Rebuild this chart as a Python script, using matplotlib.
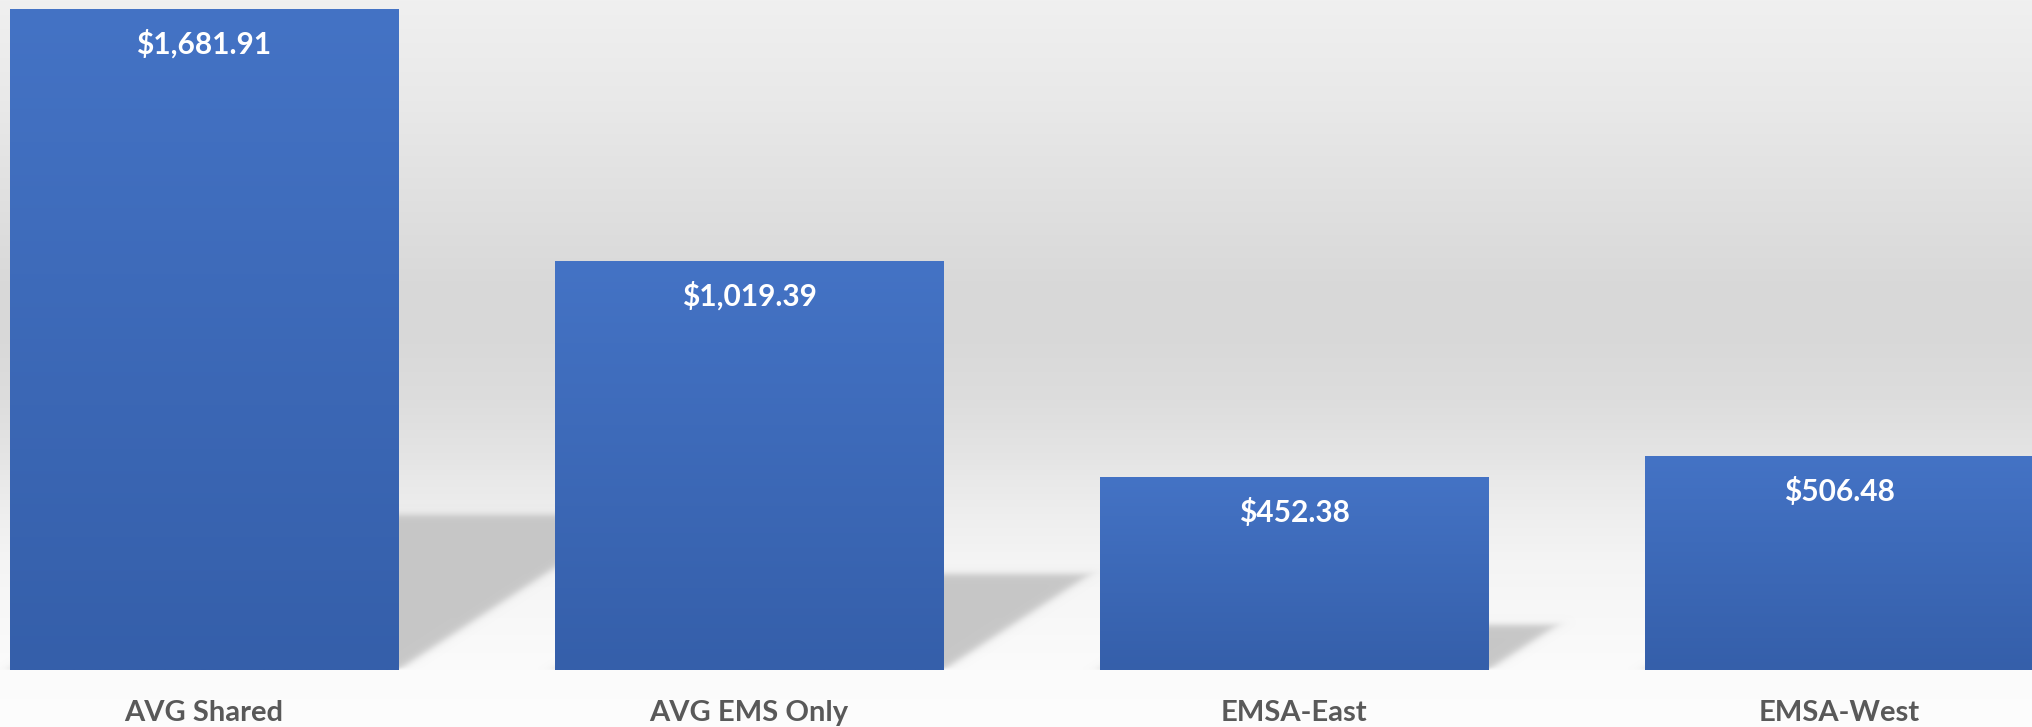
import numpy as np
import matplotlib
matplotlib.use("Agg")
import matplotlib.pyplot as plt

# ---- data ----
categories = ["AVG Shared", "AVG EMS Only", "EMSA-East", "EMSA-West"]
values = [1681.91, 1019.39, 452.38, 506.48]
value_labels = ["$1,681.91", "$1,019.39", "$452.38", "$506.48"]

plt.rcParams['font.family'] = ['Lato', 'DejaVu Sans']

W_PX, H_PX, DPI = 2033, 727, 100
fig = plt.figure(figsize=(W_PX / DPI, H_PX / DPI), dpi=DPI)

# ---- background gradient (chart area) ----
bg = fig.add_axes([0, 0, 1, 1], zorder=0)
bg.set_axis_off()
ys = np.array([0, 100, 200, 280, 330, 400, 430, 460, 480, 520, 560, 600, 670, 727])
gs = np.array([240, 233, 224, 217, 216, 221, 225, 229, 233, 239, 244, 247, 251, 253])
yy = np.arange(H_PX)
g = np.interp(yy, ys, gs) / 255.0
bg_img = np.repeat(g[:, None], 4, axis=1)
bg_rgb = np.stack([bg_img, bg_img, bg_img], axis=-1)
bg.imshow(bg_rgb, aspect='auto', extent=(0, 1, 0, 1), origin='upper')
bg.set_xlim(0, 1)
bg.set_ylim(0, 1)

# ---- main axes ----
ax_bottom = (H_PX - 670) / H_PX
ax = fig.add_axes([0, ax_bottom, 1, 1 - ax_bottom], zorder=1)
ax.patch.set_alpha(0)
for s in ax.spines.values():
    s.set_visible(False)

x = np.arange(len(categories))
bar_w = 0.712
xmin, xmax = -0.3743, 3.3560
y0, ymax = -53.0, 1706.0
ax.set_xlim(xmin, xmax)
ax.set_ylim(y0, ymax)
ax.set_yticks([])
ax.set_xticks([])

bars = ax.bar(x, np.array(values) - y0, bottom=y0, width=bar_w,
              color='none', edgecolor='none', zorder=3)

# ---- shadows (derived from bar geometry) ----
ax_w_px = W_PX
ax_h_px = 670
px = np.arange(ax_w_px) + 0.5
py = np.arange(ax_h_px) + 0.5
PX, PY = np.meshgrid(px, py)

def to_px_x(v):
    return (v - xmin) / (xmax - xmin) * ax_w_px

def to_px_h(v):
    return (v - y0) / (ymax - y0) * ax_h_px

def soft(d, sigma):
    return 0.5 * (1 + np.tanh(d / (sigma * 0.85)))

alpha = np.zeros_like(PX)
for b in bars:
    xl = to_px_x(b.get_x())
    xr = to_px_x(b.get_x() + b.get_width())
    H = to_px_h(b.get_y() + b.get_height())
    sh = 0.235 * H
    k = 0.36 * H / sh
    norm = np.sqrt(1 + k * k)
    d_top = sh - PY
    d_right = (xr + PY * k - PX) / norm
    d_left = (PX - (xl + PY * k)) / norm
    m = soft(d_top, 4.5) * soft(d_right, 5.0) * soft(d_left, 5.0) * soft(PY - 1, 2.0)
    alpha = np.maximum(alpha, m)

shadow = np.zeros((ax_h_px, ax_w_px, 4))
shadow[..., :3] = 196 / 255.0
shadow[..., 3] = alpha * 0.95
ax.imshow(shadow, extent=(xmin, xmax, y0, ymax), origin='lower',
          aspect='auto', zorder=1, interpolation='bilinear')

# ---- gradient bars ----
top_c = np.array([68, 115, 197]) / 255.0
bot_c = np.array([53, 95, 170]) / 255.0
t = np.linspace(0, 1, 256)[:, None]
grad = (top_c[None, :] * (1 - t) + bot_c[None, :] * t)
grad_img = grad[:, None, :]
for b in bars:
    x0b, y0b = b.get_x(), b.get_y()
    x1b, y1b = x0b + b.get_width(), y0b + b.get_height()
    ax.imshow(grad_img, extent=(x0b, x1b, y0b, y1b), origin='upper',
              aspect='auto', zorder=3, interpolation='bilinear')
ax.set_xlim(xmin, xmax)
ax.set_ylim(y0, ymax)

# ---- value labels ----
for xi, v, lab in zip(x, values, value_labels):
    ax.annotate(lab, xy=(xi, v), xytext=(0, -44), textcoords='offset pixels',
                ha='center', va='baseline', color='white', fontsize=21.5,
                fontweight='bold', zorder=5)

# ---- category labels ----
base_y = -(721 - 670) / 670
for xi, c in zip(x, categories):
    ax.text(xi, base_y, c, transform=ax.get_xaxis_transform(), ha='center',
            va='baseline', color='#595959', fontsize=21, fontweight='bold',
            clip_on=False)

fig.savefig("out.png", dpi=DPI)
